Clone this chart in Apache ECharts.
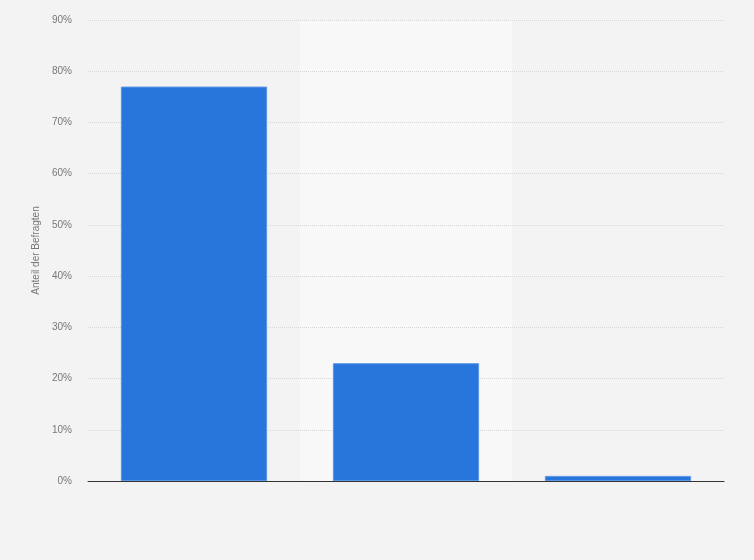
<!DOCTYPE html>
<html>
<head>
<meta charset="utf-8">
<script src="https://cdn.jsdelivr.net/npm/echarts@6/dist/echarts.min.js"></script>
<style>
html, body { margin: 0; padding: 0; background: #f3f3f3; }
#main { width: 754px; height: 560px; }
</style>
</head>
<body>
<div id="main"></div>
<script>
// Antworten (Beschriftungen im Original nicht sichtbar)
var categories = ['Antwort 1', 'Antwort 2', 'Antwort 3'];
var values = [77, 23, 1];
var yTicks = [0, 10, 20, 30, 40, 50, 60, 70, 80, 90];

var chart = echarts.init(document.getElementById('main'));

var option = {
	backgroundColor: '#f3f3f3',
	animation: false,
	grid: {
		left: 88,
		right: 30,
		top: 20,
		bottom: 79
	},
	xAxis: [{
		// Hintergrundstreifen
		type: 'category',
		data: categories,
		z: 0,
		axisTick: { show: false },
		axisLabel: { show: false },
		axisLine: { show: false },
		splitArea: {
			show: true,
			areaStyle: { color: ['rgba(0,0,0,0)', '#f8f8f8'] }
		}
	}, {
		// nur die Grundlinie, über den Gitterlinien
		type: 'category',
		data: categories,
		position: 'bottom',
		z: 4,
		axisTick: { show: false },
		axisLabel: { show: false },
		axisLine: { lineStyle: { color: '#333', width: 1 } }
	}],
	yAxis: {
		type: 'value',
		z: 1,
		min: yTicks[0],
		max: yTicks[yTicks.length - 1],
		interval: 10,
		name: 'Anteil der Befragten',
		nameLocation: 'middle',
		nameGap: 43,
		nameTextStyle: { color: '#777', fontSize: 10, fontFamily: 'Arial, Liberation Sans' },
		axisLine: { show: false },
		axisTick: { show: false },
		axisLabel: {
			color: '#777',
			fontSize: 10,
			fontFamily: 'Arial, Liberation Sans',
			margin: 16,
			formatter: '{value}%'
		},
		splitLine: { lineStyle: { color: '#d6d6d6', type: [1, 1] } }
	},
	series: [{
		type: 'bar',
		data: values,
		xAxisIndex: 0,
		z: 3,
		barCategoryGap: '31%',
		itemStyle: {
			color: '#2876dc',
			borderColor: '#5b97e6',
			borderWidth: 1
		}
	}]
};

chart.setOption(option);
</script>
</body>
</html>
